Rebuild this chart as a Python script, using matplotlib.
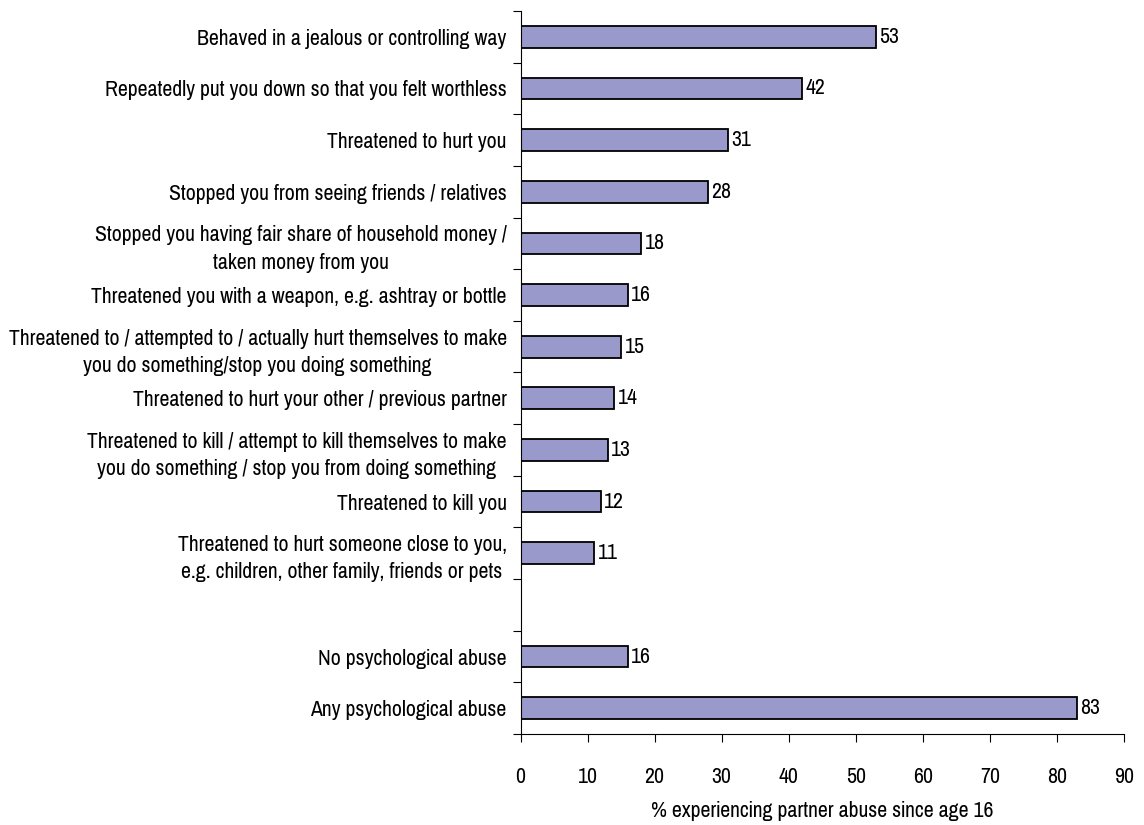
import numpy as np
import matplotlib
matplotlib.use('Agg')
from matplotlib import pyplot as plt

# data (top to bottom)
behaviours = [
    'Behaved in a jealous or controlling way',
    'Repeatedly put you down so that you felt worthless',
    'Threatened to hurt you',
    'Stopped you from seeing friends / relatives',
    'Stopped you having fair share of household money /\ntaken money from you',
    'Threatened you with a weapon, e.g. ashtray or bottle',
    'Threatened to / attempted to / actually hurt themselves to make\nyou do something/stop you doing something',
    'Threatened to hurt your other / previous partner',
    'Threatened to kill / attempt to kill themselves to make\nyou do something / stop you from doing something',
    'Threatened to kill you',
    'Threatened to hurt someone close to you,\ne.g. children, other family, friends or pets',
]
behaviour_vals = [53, 42, 31, 28, 18, 16, 15, 14, 13, 12, 11]

summary = ['No psychological abuse', 'Any psychological abuse']
summary_vals = [16, 83]

xticks = [0, 10, 20, 30, 40, 50, 60, 70, 80, 90]
xlabel = '% experiencing partner abuse since age 16'

# narrow Arial look
plt.rcParams['font.family'] = ['Pragati Narrow', 'Archivo Narrow', 'Liberation Sans', 'DejaVu Sans']
fs = 17

labels = behaviours + [''] + summary
vals = behaviour_vals + [np.nan] + summary_vals
pos = np.arange(len(labels))

fig = plt.figure(figsize=(11.44, 8.25), dpi=100)
ax = fig.add_axes([0.455, 0.1103, 0.5275, 0.8764])

ax.barh(pos, vals, height=0.42, color='#9999cc', edgecolor='black', linewidth=1.3)
for p, v in zip(pos, vals):
    if not np.isnan(v):
        ax.text(v + 0.5, p, '%d' % v, va='center', ha='left', fontsize=fs)

ax.set_ylim(len(labels) - 0.5, -0.5)
ax.set_xlim(0, 90)

# tick marks between categories, labels at category centres
ax.set_yticks(np.arange(len(labels) + 1) - 0.5)
ax.set_yticklabels([])
ax.set_yticks(pos, minor=True)
ax.set_yticklabels(labels, minor=True, fontsize=fs)
for t in ax.get_yticklabels(minor=True):
    t.set_multialignment('center')
    t.set_linespacing(1.45)
ax.tick_params(axis='y', which='minor', length=0, pad=10)
ax.tick_params(axis='y', which='major', length=6, direction='out')

ax.set_xticks(xticks)
ax.tick_params(axis='x', length=6, direction='out', labelsize=fs, pad=18)
ax.set_xlabel(xlabel, fontsize=fs, labelpad=10)

for s in ['top', 'right']:
    ax.spines[s].set_visible(False)

fig.savefig('out.png', dpi=100)
